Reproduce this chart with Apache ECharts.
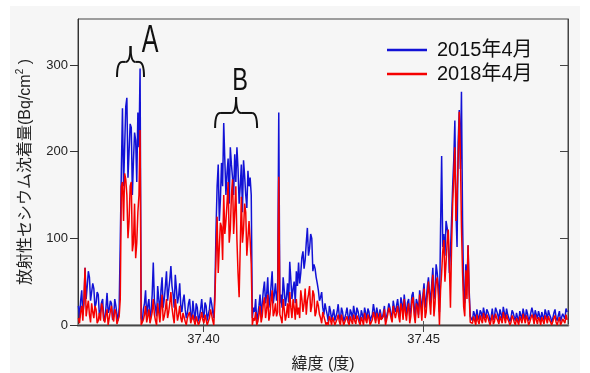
<!DOCTYPE html>
<html>
<head>
<meta charset="utf-8">
<script src="https://cdn.jsdelivr.net/npm/echarts@6/dist/echarts.min.js"></script>
<style>
html,body{margin:0;padding:0;background:#fff;}
#main{width:590px;height:373px;}
</style>
</head>
<body>
<div id="main"></div>
<script>
// 緯度: 37.3716 から 0.00025 刻み
var latStart = 37.3716, latStep = 0.00025;
var names = ['2015年4月', '2018年4月'];
var xTicks = [37.40, 37.45];
var yTicks = [0, 100, 200, 300];

// 2015年4月 (青)
var b15 = [
  22,8, 28,40, 12,25, 66,30, 45,62, 55,28, 30,48, 42,20, 25,38, 35,12,
  15,26, 30,5, 8,20, 37,14, 18,28, 25,6, 10,30, 22,12, 5,20, 96,180,
  250,160, 205,252, 262,170, 200,232, 228,150, 190,222, 213,165, 245,205, 296,8,
  3,18, 25,40, 10,22, 30,8, 15,35, 72,28, 20,10, 45,30, 12,40, 55,20, 30,45,
  62,28, 40,52, 68,45, 35,20, 58,42, 25,33, 48,22, 15,28, 35,18, 8,14,
  25,30, 12,6, 28,15, 5,25, 20,4, 10,18, 30,14, 8,26, 22,5, 12,18,
  32,25, 15,8,
  40,110, 160,185, 120,145, 187,160, 233,190, 150,175, 192,140, 205,185, 170,150,
  197,165, 205,180, 140,160, 185,130, 190,172, 150,135, 178,160, 170,150, 8,20,
  15,30, 3,12, 22,35, 10,25, 40,50, 25,35, 55,20, 30,45, 62,25, 35,48,
  28,40, 245,25, 35,20, 55,40, 22,32, 48,26, 73,52, 30,42, 50,25, 62,45,
  72,48, 60,78, 85,65, 75,95, 112,80, 88,105, 100,62, 70,65, 55,48, 40,28,
  32,38, 20,12, 25,18,
  12,4, 22,16, 6,12, 18,5, 10,15, 24,10, 5,20, 15,4, 8,13, 20,10,
  4,18, 14,6, 22,14, 7,20, 16,9, 3,17, 12,5, 20,14, 6,19, 15,4,
  9,12, 24,16, 5,20, 13,6, 18,11, 7,14, 22,4, 10,16, 25,20, 12,8, 28,20,
  15,22, 30,18, 10,32, 25,14, 35,22, 12,26, 30,10, 20,34, 38,22, 8,30,
  25,12, 40,30, 15,35, 48,20, 30,44, 55,38, 25,48, 66,30, 40,70, 60,45, 15,110,
  195,90, 105,80, 120,112, 100,60, 85,120, 160,190, 236,130, 90,210, 248,180, 269,120,
  40,25, 70,45, 92,40, 10,8,
  5,16, 12,4, 18,10, 6,17, 14,7, 20,13, 8,18, 15,11, 4,9, 19,6,
  10,20, 16,12, 5,18, 13,6, 21,14, 7,19, 12,10, 4,8, 17,14, 9,5,
  14,12, 3,16, 11,7, 19,12, 6,18, 13,5, 8,10, 20,14, 5,17, 12,7,
  16,11, 4,15, 10,6, 18,13, 6,17, 12,9, 3,8, 14,18, 8,5, 11,16,
  4,9, 13,12, 7,19, 15
];
// 2018年4月 (赤)
var r18 = [
  8,2, 15,22, 5,30, 66,10, 20,28, 12,3, 25,15, 8,22, 18,2, 5,14,
  5,25, 20,6, 3,12, 18,0, 8,16, 22,9, 4,18, 15,1, 2,10, 30,160,
  165,120, 175,168, 150,100, 120,160, 165,85, 95,140, 77,95, 130,150, 225,0,
  0,6, 12,22, 3,10, 18,2, 8,15, 30,12, 5,0, 25,14, 3,20, 35,5, 10,18,
  30,8, 15,25, 38,20, 10,2, 30,18, 5,12, 22,8, 3,14, 15,4, 0,8,
  12,15, 2,0, 12,5, 0,10, 8,0, 3,8, 15,6, 2,12, 10,0, 4,8,
  18,12, 5,0,
  30,80, 125,60, 90,118, 113,75, 150,105, 120,140, 165,95, 110,150, 168,105,
  130,160, 98,60, 32,90, 148,95, 110,140, 130,80, 100,120, 98,70, 0,8,
  5,15, 0,4, 12,22, 3,10, 25,32, 8,18, 35,5, 12,28, 40,10, 15,25,
  10,15, 171,12, 8,2, 30,18, 5,12, 25,8, 38,20, 8,30, 20,6, 30,12,
  20,8, 40,30, 15,25, 42,12, 28,35, 45,15, 22,40, 35,10, 15,28, 22,12,
  8,2, 15,10, 5,0,
  3,0, 10,6, 0,9, 8,0, 2,7, 12,4, 0,12, 6,0, 2,7, 10,3,
  0,10, 5,1, 12,5, 1,11, 8,3, 0,9, 5,0, 14,6, 2,12, 8,0,
  3,6, 15,9, 2,14, 9,1, 14,6, 4,10, 18,0, 6,12, 20,15, 8,3, 22,14,
  8,15, 22,10, 3,25, 18,6, 30,15, 5,18, 25,2, 10,28, 32,12, 2,25,
  20,8, 35,22, 5,30, 42,8, 15,35, 50,28, 12,40, 58,10, 25,50, 55,35, 0,40,
  60,85, 98,50, 72,95, 110,70, 20,90, 140,170, 205,120, 150,190, 246,200, 113,60,
  21,10, 63,30, 92,35, 3,4,
  2,10, 8,0, 12,5, 1,11, 6,2, 14,7, 3,12, 9,4, 0,6, 12,1,
  4,13, 8,5, 1,10, 6,2, 15,8, 2,12, 7,4, 0,3, 11,8, 3,0,
  8,6, 0,10, 6,2, 13,7, 2,11, 7,0, 3,5, 12,8, 1,12, 6,1,
  9,6, 0,9, 5,1, 11,7, 2,10, 6,3, 0,2, 8,11, 3,0, 5,9,
  0,3, 7,6, 2,12, 6
];

var FONT = '"Liberation Sans", "Noto Sans CJK JP", sans-serif';
var xMin = 37.3715, xMax = 37.4828, yMax = 353;

function pairs(arr) {
  return arr.map(function (v, i) { return [latStart + latStep * i, v]; });
}

var myChart = echarts.init(document.getElementById('main'), null, {renderer: 'canvas'});

myChart.setOption({
  animation: false,
  backgroundColor: '#ffffff',
  textStyle: {fontFamily: FONT},
  color: ['#1212d6', '#f50000'],
  grid: {
    left: 78, right: 22, top: 19, bottom: 48,
    outerBoundsMode: 'none', containLabel: false,
    show: true, borderColor: '#444', borderWidth: 1, backgroundColor: 'transparent'
  },
  legend: {
    data: names,
    orient: 'vertical',
    left: 382, top: 35,
    icon: 'rect', itemWidth: 40, itemHeight: 2.5, itemGap: 4,
    textStyle: {fontSize: 20, color: '#111', fontFamily: FONT, padding: [0, 0, 0, 5]}
  },
  xAxis: [{
    type: 'value', position: 'bottom', min: xMin, max: xMax,
    axisLine: {show: true, lineStyle: {color: '#8a8a8a', width: 2.5}},
    axisTick: {show: true, inside: true, length: 4, customValues: xTicks, lineStyle: {color: '#555'}},
    axisLabel: {customValues: xTicks, fontSize: 13, color: '#222', margin: 8,
      formatter: function (v) { return v.toFixed(2); }},
    splitLine: {show: false},
    name: '緯度 (度)', nameLocation: 'middle', nameGap: 32,
    nameTextStyle: {fontSize: 16, color: '#222'}
  }, {
    type: 'value', position: 'top', min: xMin, max: xMax,
    axisLine: {show: true, lineStyle: {color: '#444', width: 1}},
    axisTick: {show: true, inside: true, length: 7, customValues: xTicks, lineStyle: {color: '#444'}},
    axisLabel: {show: false},
    splitLine: {show: false}
  }],
  yAxis: [{
    type: 'value', position: 'left', min: 0, max: yMax,
    axisLine: {show: true, lineStyle: {color: '#333', width: 1}},
    axisTick: {show: true, inside: false, length: 8, customValues: yTicks, lineStyle: {color: '#333'}},
    axisLabel: {customValues: yTicks, fontSize: 13, color: '#222', margin: 10},
    splitLine: {show: false},
    name: '放射性セシウム沈着量(Bq/cm{sup|2} )',
    nameLocation: 'middle', nameGap: 40, nameRotate: 90,
    nameTextStyle: {fontSize: 16, color: '#222', lineHeight: 20,
      rich: {sup: {fontSize: 10, lineHeight: 10, verticalAlign: 'top', color: '#222'}}}
  }, {
    type: 'value', position: 'right', min: 0, max: yMax,
    axisLine: {show: true, lineStyle: {color: '#444', width: 1}},
    axisTick: {show: true, inside: true, length: 8, customValues: [100, 200, 300], lineStyle: {color: '#444'}},
    axisLabel: {show: false},
    splitLine: {show: false}
  }],
  series: [{
    name: names[0], type: 'line', xAxisIndex: 0, yAxisIndex: 0,
    showSymbol: false, data: pairs(b15),
    lineStyle: {width: 1.5, color: '#1212d6'}, z: 2
  }, {
    name: names[1], type: 'line', xAxisIndex: 0, yAxisIndex: 0,
    showSymbol: false, data: pairs(r18),
    lineStyle: {width: 1.5, color: '#f50000'}, z: 3
  }]
});

// 注記 A, B (データ座標で位置指定)
var notes = [
  {label: 'A', text: [37.38786, 327], brace: [37.38343, 303.5], size: 38, sx: 0.66, w: 13.5},
  {label: 'B', text: [37.40832, 281.5], brace: [37.40741, 244.6], size: 31, sx: 0.76, w: 21}
];

function brace(cx, cy, w, h1, h2, r) {
  var st = {stroke: '#111', lineWidth: 2, fill: null};
  return {
    type: 'group', x: cx, y: cy, silent: true,
    children: [
      {type: 'bezierCurve', shape: {x1: -w, y1: h2, cpx1: -w, cpy1: 0, x2: -w + r, y2: 0}, style: st},
      {type: 'line', shape: {x1: -w + r, y1: 0, x2: -r, y2: 0}, style: st},
      {type: 'bezierCurve', shape: {x1: -r, y1: 0, cpx1: 0, cpy1: 0, x2: 0, y2: -h1}, style: st},
      {type: 'bezierCurve', shape: {x1: 0, y1: -h1, cpx1: 0, cpy1: 0, x2: r, y2: 0}, style: st},
      {type: 'line', shape: {x1: r, y1: 0, x2: w - r, y2: 0}, style: st},
      {type: 'bezierCurve', shape: {x1: w - r, y1: 0, cpx1: w, cpy1: 0, x2: w, y2: h2}, style: st}
    ]
  };
}

var gfx = [{
  type: 'rect', z: -100, silent: true,
  shape: {x: 10, y: 6, width: 570, height: 367},
  style: {fill: '#f6f6f6'}
}];
notes.forEach(function (n) {
  var t = myChart.convertToPixel({xAxisIndex: 0, yAxisIndex: 0}, n.text);
  var b = myChart.convertToPixel({xAxisIndex: 0, yAxisIndex: 0}, n.brace);
  gfx.push({
    type: 'text', x: t[0], y: t[1], scaleX: n.sx, silent: true, z: 10,
    style: {text: n.label, font: n.size + 'px "Liberation Sans", sans-serif',
      fill: '#111', textAlign: 'center', textVerticalAlign: 'middle'}
  });
  gfx.push(brace(b[0], b[1], n.w, 16, 15, 5));
});
myChart.setOption({graphic: gfx});
</script>
</body>
</html>
